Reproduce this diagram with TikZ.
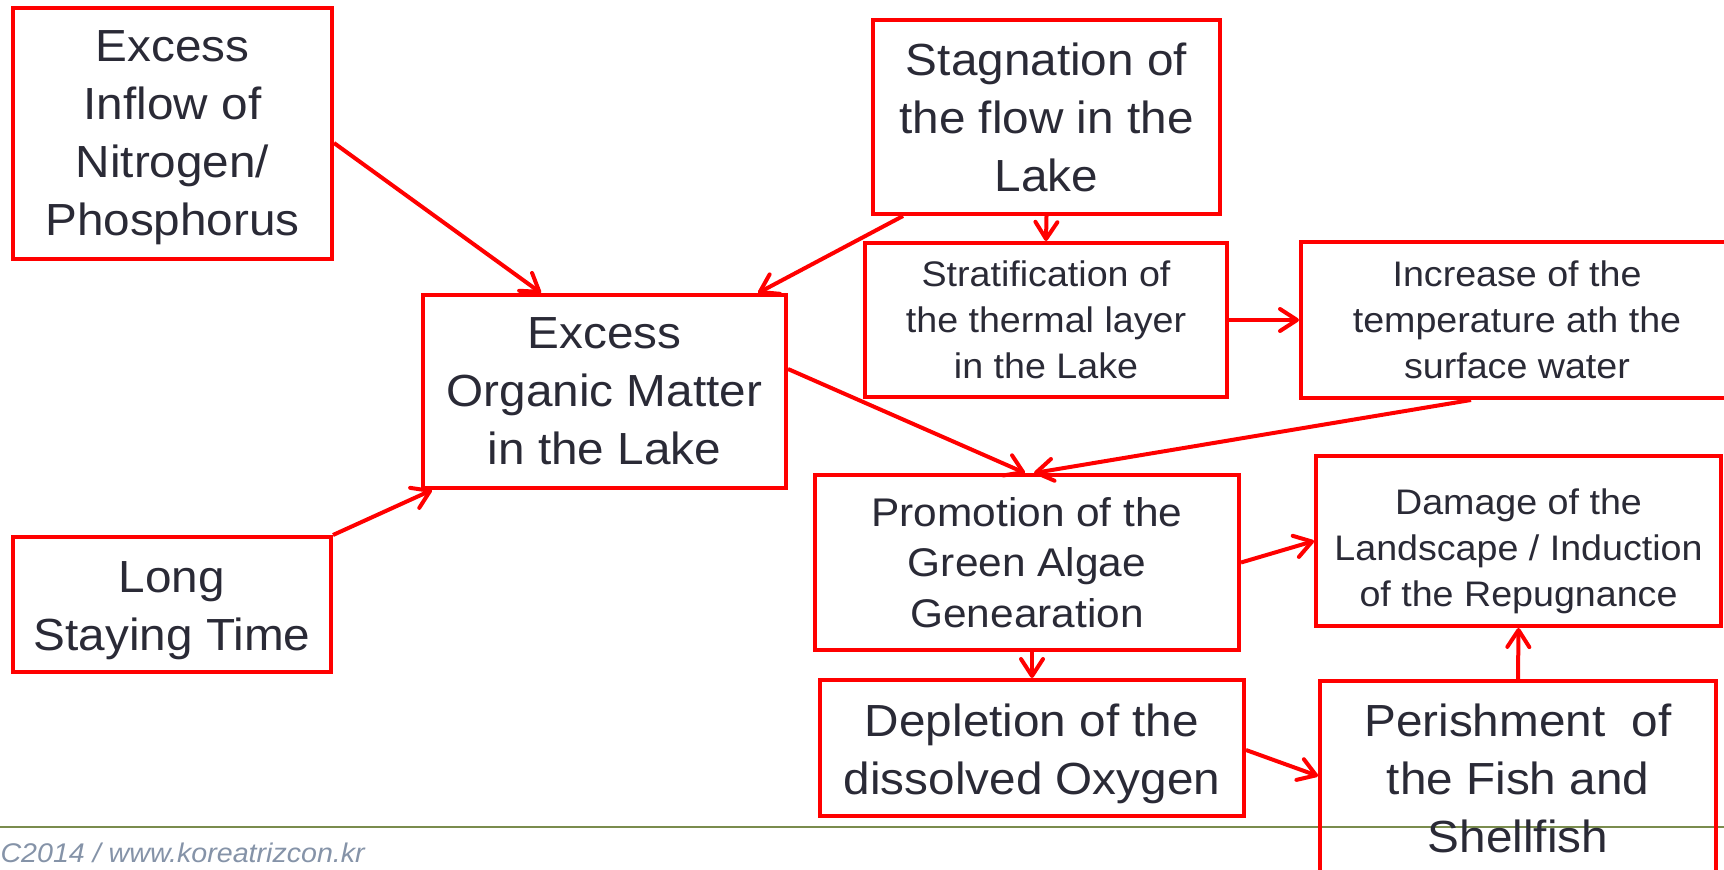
\documentclass[tikz,border=0pt]{standalone}
\usepackage{fontspec}
\setmainfont[FakeStretch=1.06]{Liberation Sans}
\usetikzlibrary{arrows.meta}
\definecolor{boxred}{HTML}{FF0000}
\definecolor{txt}{HTML}{2A2A36}
\definecolor{olive}{HTML}{7A8C4E}
\definecolor{foot}{HTML}{8593A8}
\begin{document}
\begin{tikzpicture}[x=1pt,y=-1pt,
  box/.style={draw=boxred,line width=4pt,rectangle,inner sep=0pt,align=center,text=txt},
  big/.style={font=\fontsize{45}{58}\selectfont},
  mid/.style={font=\fontsize{40}{50.5}\selectfont},
  small/.style={font=\fontsize{35.5}{46}\selectfont},
  lowtext/.style={align=center,text=txt,yshift=#1},
  conn/.style={draw=boxred,line width=4pt,-{Straight Barb[length=17pt,width=22pt,round]}}]
\useasboundingbox (0,0) rectangle (1724,870);
\draw[olive,line width=2pt] (0,827) -- (1724,827);
\node[anchor=base west,text=foot,font=\itshape\fontsize{27}{31}\selectfont] (foot) at (-3,862) {C2014 / www.koreatrizcon.kr};

\node[box,minimum width=319pt,minimum height=251pt,
  label={[big,lowtext=-4.5pt]center:Excess\\Inflow of\\Nitrogen/\\Phosphorus}] (inflow) at (172.5,133.5) {};
\node[box,minimum width=318pt,minimum height=135pt,
  label={[big,lowtext=-6.5pt]center:Long\\Staying Time}] (long) at (172,604.5) {};
\node[box,big,minimum width=363pt,minimum height=193pt] (organic) at (604.5,391.5) {Excess\\Organic Matter\\in the Lake};
\node[box,big,minimum width=347pt,minimum height=194pt] (stag) at (1046.5,117) {Stagnation of\\the flow in the\\Lake};
\node[box,small,minimum width=362pt,minimum height=154pt] (strat) at (1046,320) {Stratification of\\the thermal layer\\in the Lake};
\node[box,small,minimum width=432pt,minimum height=156pt] (incr) at (1517,320) {Increase of the\\temperature ath the\\surface water};
\node[box,mid,minimum width=424pt,minimum height=175pt] (promo) at (1027,562.5) {Promotion of the\\Green Algae\\Genearation};
\node[box,minimum width=405pt,minimum height=170pt,
  label={[small,lowtext=-10pt]center:Damage of the\\Landscape / Induction\\of the Repugnance}] (damage) at (1518.5,541) {};
\node[box,minimum width=424pt,minimum height=136pt,
  label={[big,lowtext=-5.5pt]center:Depletion of the\\dissolved Oxygen}] (deplet) at (1032,748) {};
\node[box,big,minimum width=396pt,minimum height=194pt] (perish) at (1518,778) {Perishment\ \ of\\the Fish and\\Shellfish};

\draw[conn] ([yshift=-9.5pt]inflow.east) -- ([xshift=-63.5pt]organic.north);
\draw[conn] (long.north east) -- ([xshift=11pt]organic.south west);
\draw[conn] ([xshift=32pt]stag.south west) -- ([xshift=153.5pt]organic.north);
\draw[conn] (stag.south) -- (strat.north);
\draw[conn] (strat.east) -- (incr.west);
\draw[conn] ([yshift=22.5pt]organic.east) -- ([xshift=-2pt]promo.north);
\draw[conn] ([xshift=-46pt]incr.south) -- ([xshift=7pt]promo.north);
\draw[conn] (promo.east) -- (damage.west);
\draw[conn] (promo.south -| deplet.north) -- (deplet.north);
\draw[conn] ([yshift=-2pt]deplet.east) -- ([yshift=2pt]perish.west);
\draw[conn] (perish.north) -- (damage.south);
\end{tikzpicture}
\end{document}
